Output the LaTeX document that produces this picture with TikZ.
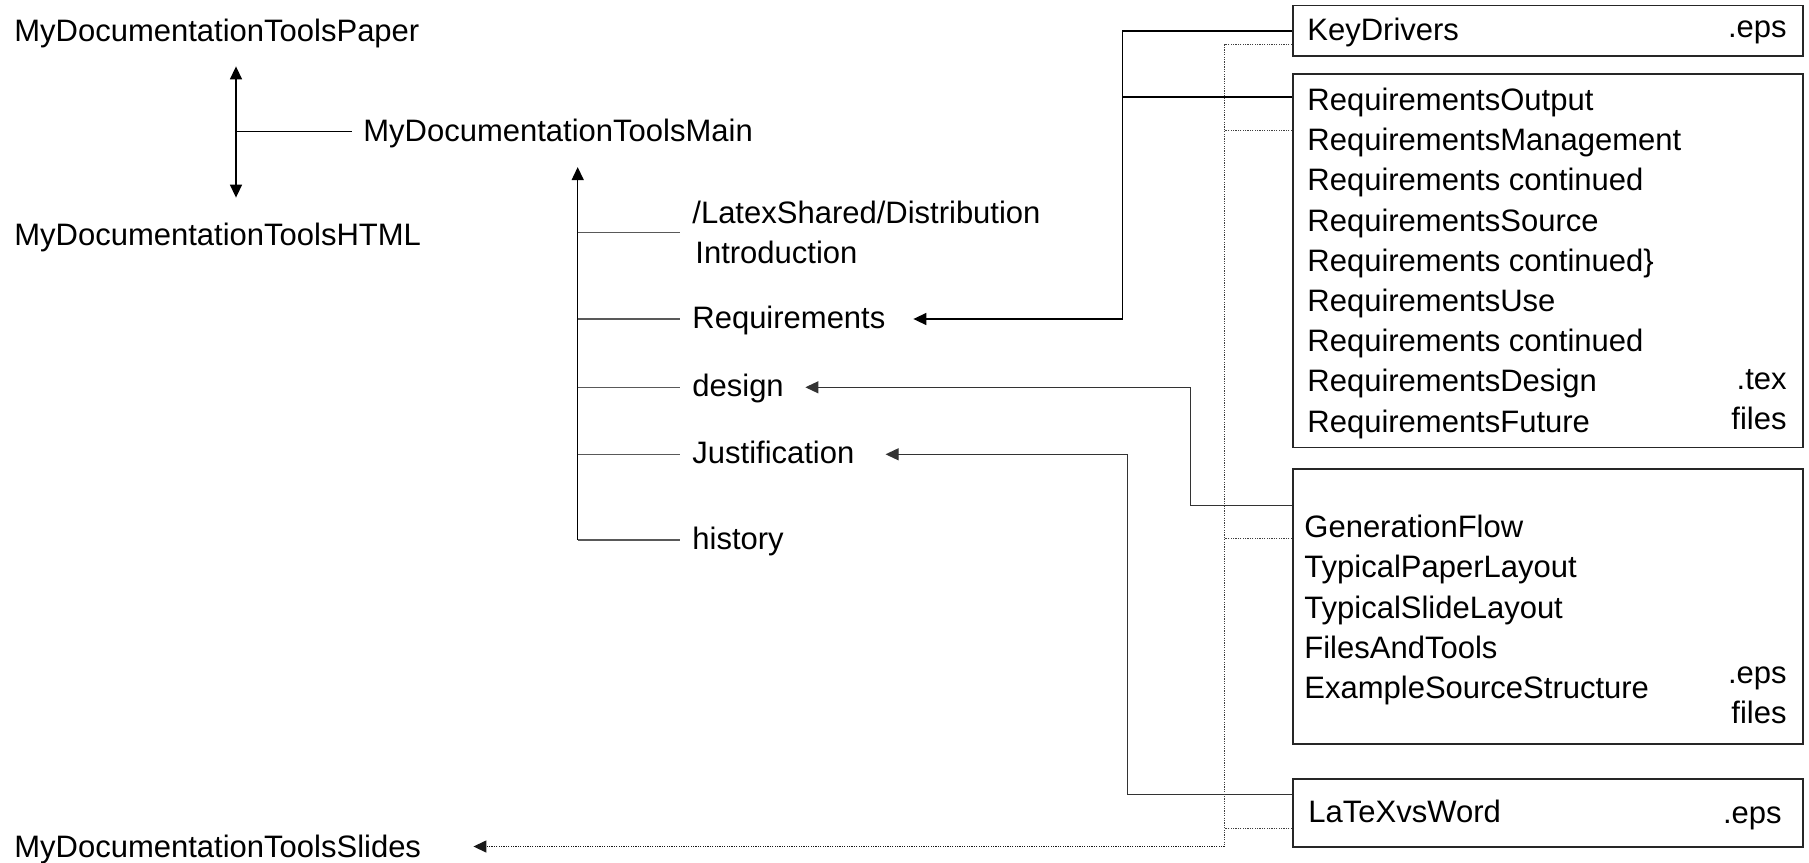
\documentclass[tikz,border=0pt]{standalone}
\usepackage{fontspec}
\setmainfont{Liberation Sans}
\usetikzlibrary{arrows.meta,fit}
\begin{document}
\begin{tikzpicture}[x=0.5pt,y=-0.5pt,
  lbl/.style={inner sep=0pt, anchor=west, text height=12pt, text depth=3pt,
    font=\fontsize{15.5pt}{20.1pt}\selectfont},
  multi/.style={inner sep=0pt, align=left, font=\fontsize{15.5pt}{20.1pt}\selectfont},
  filebox/.style={draw=black!85, line width=0.9pt, inner sep=0pt},
  conn/.style={draw=black, line width=0.75pt},
  thinconn/.style={draw=black!80, line width=0.55pt},
  branch/.style={draw=black!65, line width=0.6pt},
  dotconn/.style={draw=black!75, line width=0.5pt, dash pattern=on 0.6pt off 0.6pt},
  tip/.style={-{Triangle[length=6.5pt,width=6pt]}},
]
\useasboundingbox (0,0) rectangle (1809,862);

% ---- left hierarchy ----
\node[lbl, anchor=base west] (paper) at (14,41) {MyDocumentationToolsPaper};
\node[lbl, anchor=base west] (html) at (14,245.5) {MyDocumentationToolsHTML};
\node[lbl, anchor=base west] (main) at (363,141.5) {MyDocumentationToolsMain};
\node[lbl, anchor=base west] (slides) at (14,857) {MyDocumentationToolsSlides};

\coordinate (dv) at (236,131.7);
\draw[conn, {Triangle[length=6.5pt,width=6pt]}-{Triangle[length=6.5pt,width=6pt]}]
  ([yshift=-9.5pt]paper.south -| dv) -- ([yshift=11.75pt]html.north -| dv);
\draw[conn] (dv) -- ([xshift=-5.5pt]main.west |- dv);

\node[multi, anchor=west] (ls) at (692,232.5) {/LatexShared/Distribution\\\hspace*{1.5pt}Introduction};
\node[lbl] (req) at (692,319) {Requirements};
\node[lbl] (design) at (692,387.3) {design};
\node[lbl] (just) at (692,454.3) {Justification};
\node[lbl] (hist) at (692,540) {history};

\coordinate (mv) at (577.7,540);
\draw[conn, tip] (mv) -- ([yshift=-9.6pt]main.south -| mv);
\draw[branch] (mv |- ls.west) -- ([xshift=-6.2pt]ls.west);
\draw[branch] (mv |- req.west) -- ([xshift=-6.2pt]req.west);
\draw[branch] (mv |- design.west) -- ([xshift=-6.2pt]design.west);
\draw[branch] (mv |- just.west) -- ([xshift=-6.2pt]just.west);
\draw[branch] (mv) -- ([xshift=-6.2pt]hist.west);

% ---- right file boxes ----
\node[filebox, fit={(1292.7,5.5) (1803,56)}] (kd) {};
\node[filebox, fit={(1292.7,74) (1803,447.5)}] (rb) {};
\node[filebox, fit={(1292.7,469) (1803,744)}] (gb) {};
\node[filebox, fit={(1292.7,779) (1803,846.7)}] (lb) {};

\node[lbl, anchor=base west] (kdt) at (1307,40) {KeyDrivers};
\node[lbl, anchor=base east] (kde) at (1787,37) {.eps};

\node[multi, anchor=north west] (rlist) at (1307,86) {\rule{0pt}{12pt}RequirementsOutput\\
RequirementsManagement\\
Requirements continued\\
RequirementsSource\\
Requirements continued\}\\
RequirementsUse\\
Requirements continued\\
RequirementsDesign\\
RequirementsFuture};
\node[multi, align=right, anchor=north east] (rtex) at (1787,365) {\rule{0pt}{12pt}.tex\\files};

\node[multi, anchor=north west] (glist) at (1304,513.3) {\rule{0pt}{12pt}GenerationFlow\\
TypicalPaperLayout\\
TypicalSlideLayout\\
FilesAndTools\\
ExampleSourceStructure};
\node[multi, align=right, anchor=north east] (geps) at (1787,659.3) {\rule{0pt}{12pt}.eps\\files};

\node[lbl, anchor=base west] (lbt) at (1308,822) {LaTeXvsWord};
\node[lbl, anchor=base east] (lbe) at (1782,823) {.eps};

% ---- connectors from boxes ----
\coordinate (jr) at (1122.5,319);
\draw[conn, tip] (kd.west) -| (jr) -- ([xshift=13.8pt]req.east |- jr);
\coordinate (s2) at ([yshift=-11.85pt]rb.north west);
\draw[conn] (s2) -- (s2 -| jr);

\coordinate (jd) at (1190.7,387.3);
\draw[thinconn, tip] ([yshift=-18.5pt]gb.north west) -| (jd) -- ([xshift=10.6pt]design.east |- jd);

\coordinate (jj) at (1127.5,454.3);
\draw[thinconn, tip] ([yshift=-8pt]lb.north west) -| (jj) -- ([xshift=15.4pt]just.east |- jj);

\coordinate (js) at (1224.5,846.5);
\draw[dotconn] ([yshift=-20.1pt]kd.north west) -| (js);
\draw[dotconn, draw=black!90, line width=0.7pt, tip] (js) -- ([xshift=26pt]slides.east |- js);
\coordinate (d2) at ([yshift=-28.85pt]rb.north west);
\draw[dotconn] (d2) -- (d2 -| js);
\coordinate (d3) at ([yshift=-35.15pt]gb.north west);
\draw[dotconn] (d3) -- (d3 -| js);
\coordinate (d4) at ([yshift=-25.15pt]lb.north west);
\draw[dotconn] (d4) -- (d4 -| js);
\end{tikzpicture}
\end{document}
